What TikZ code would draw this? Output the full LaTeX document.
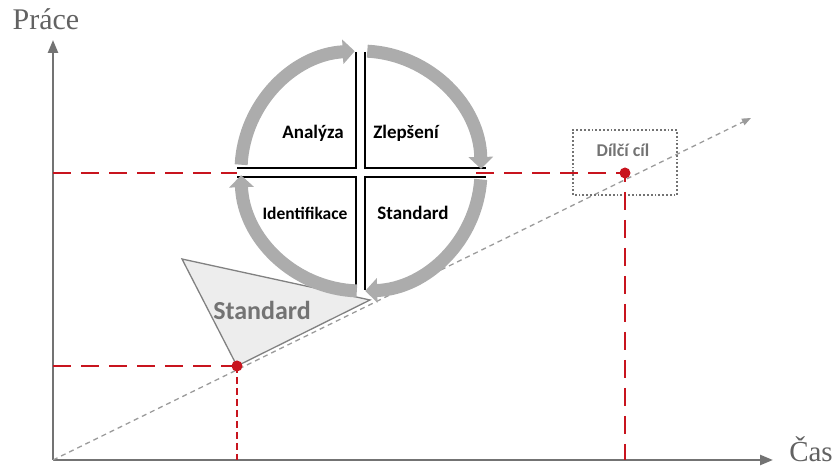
\documentclass[tikz,border=0pt]{standalone}
\usepackage{fontspec}
\setmainfont{Liberation Serif}
\newfontfamily\labelfont{Carlito}
\usetikzlibrary{arrows.meta}
\definecolor{axisgray}{RGB}{115,115,115}
\definecolor{ringgray}{RGB}{172,172,172}
\definecolor{goalred}{RGB}{200,20,30}
\tikzset{
    axis/.style={draw=axisgray, line width=2.4pt, -{Triangle[length=13pt,width=10pt]}},
    cyclearc/.style={draw=ringgray, line width=13pt, -{Triangle[length=12pt,width=24pt]}},
    quad/.style={draw=black, line width=2pt},
    guide/.style={draw=goalred, line width=2pt, dash pattern=on 18pt off 10pt},
    thinguide/.style={draw=goalred, line width=1.4pt, dash pattern=on 7pt off 4pt},
    quadlabel/.style={font=\labelfont\bfseries\fontsize{19}{21}\selectfont},
}
\begin{document}
\begin{tikzpicture}[x=1pt,y=1pt]
    \useasboundingbox (0,0) rectangle (836,468);
    % axes
    \coordinate (O) at (53,8);
    \coordinate (ytip) at (53,428);
    \coordinate (xtip) at (773,8);
    \draw[axis] (O) -- (ytip);
    \draw[axis] (O) -- (xtip);
    \node[text=axisgray!85!black, font=\fontsize{30}{32}\selectfont] (prace) at (46,449) {Práce};
    \node[text=axisgray!85!black, font=\fontsize{29}{31}\selectfont, anchor=base] (cas) at (811,6) {Čas};
    % trend line
    \coordinate (trend) at (751,350);
    \draw[draw=ringgray!90!black, line width=1.3pt, dash pattern=on 5pt off 4pt,
          -{Triangle[length=9pt,width=7pt]}] (O) -- (trend);
    % standard triangle
    \coordinate (A) at (237,102);
    \coordinate (T1) at (182,209);
    \coordinate (T2) at (370,168);
    \draw[draw=axisgray!90, fill=black!7, line width=1.3pt] (A) -- (T1) -- (T2) -- cycle;
    \node[text=axisgray, font=\labelfont\bfseries\fontsize{26}{28}\selectfont] (std) at (262,158) {Standard};
    % goal box
    \coordinate (B) at (625,295);
    \draw[draw=axisgray, line width=1.8pt, dotted] (573,273) rectangle (677,338);
    \node[text=axisgray, font=\labelfont\bfseries\fontsize{18}{20}\selectfont] (goal) at (623,318) {Dílčí cíl};
    % red guides
    \coordinate (ya) at (53,102);
    \coordinate (xa) at (237,8);
    \coordinate (yb) at (53,295);
    \coordinate (xb) at (625,8);
    \coordinate (cl) at (237,295);
    \coordinate (cr) at (476,295);
    \draw[guide] (ya) -- (A);
    \draw[thinguide] (A) -- (xa);
    \draw[guide] (yb) -- (cl);
    \draw[guide] (cr) -- (B) -- (xb);
    \fill[goalred] (A) circle (5.5pt);
    \fill[goalred] (B) circle (5.5pt);
    % quadrants
    \coordinate (C) at (361,297);
    \draw[quad] (356,416) -- (356,300) -- (237,300);
    \draw[quad] (365,416) -- (365,300) -- (486,300);
    \draw[quad] (356,178) -- (356,291) -- (237,291);
    \draw[quad] (365,178) -- (365,291) -- (486,291);
    \node[quadlabel] (analyza) at (313,335) {Analýza};
    \node[quadlabel] (zlepseni) at (406,335) {Zlepšení};
    \node[quadlabel, font=\labelfont\bfseries\fontsize{17.5}{20}\selectfont] (ident) at (305,255) {Identifikace};
    \node[quadlabel] (standard) at (413,255) {Standard};
    % cycle arrows
    \foreach \s/\e in {177/93, 87/1, -4/-88, -92/-178} {
        \draw[cyclearc] (C) ++(\s:120) arc[start angle=\s, end angle=\e, radius=120];
    }
\end{tikzpicture}
\end{document}
